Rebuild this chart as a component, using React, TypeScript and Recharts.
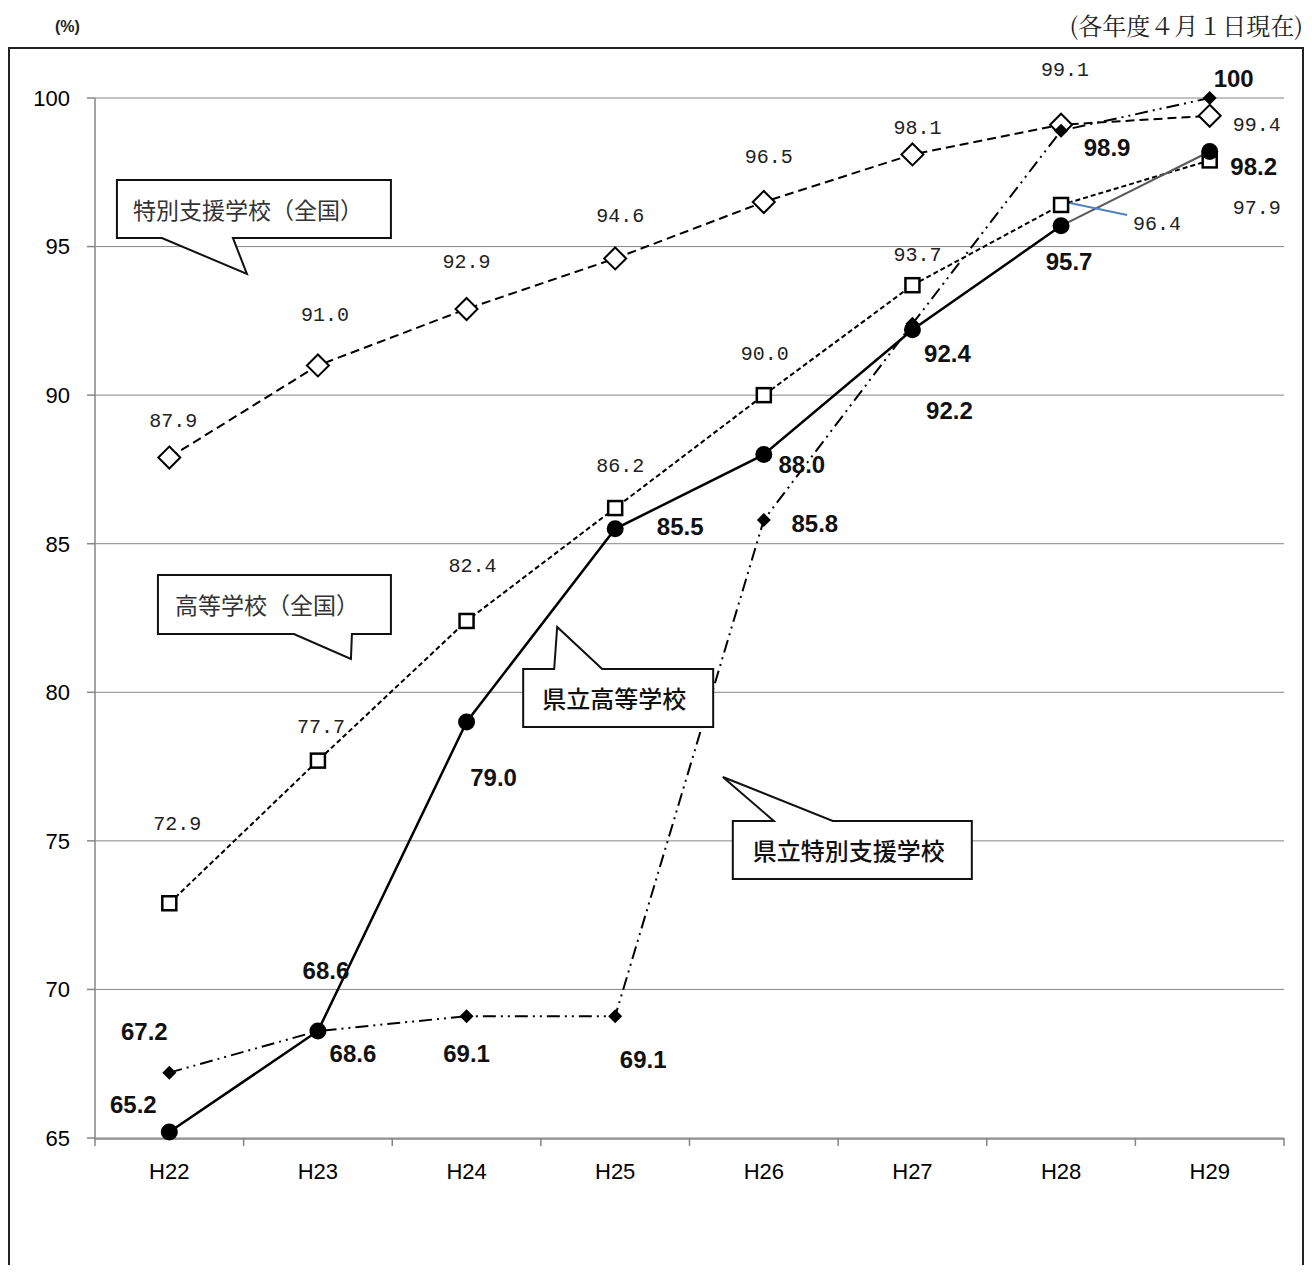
import React from 'react';
import { LineChart, Line, XAxis, YAxis, CartesianGrid, LabelList, ReferenceDot } from 'recharts';

const years = ['H22', 'H23', 'H24', 'H25', 'H26', 'H27', 'H28', 'H29'];
const tokubetsuZenkoku = [87.9, 91.0, 92.9, 94.6, 96.5, 98.1, 99.1, 99.4];
const kokoZenkoku = [72.9, 77.7, 82.4, 86.2, 90.0, 93.7, 96.4, 97.9];
const kenritsuKoko = [65.2, 68.6, 79.0, 85.5, 88.0, 92.2, 95.7, 98.2];
const kenritsuTokubetsu = [67.2, 68.6, 69.1, 69.1, 85.8, 92.4, 98.9, 100];
const yTicks = [65, 70, 75, 80, 85, 90, 95, 100];
const boundaryTicks = [0, 1, 2, 3, 4, 5, 6, 7, 8];

const data = years.map((year, i) => ({
  year,
  pos: i + 0.5,
  tz: tokubetsuZenkoku[i],
  kz: kokoZenkoku[i],
  kkMain: i <= 6 ? kenritsuKoko[i] : null,
  kkTail: i >= 6 ? kenritsuKoko[i] : null,
  kt: kenritsuTokubetsu[i],
}));

// label offsets (dx, dy) from each point
const tzOffsets = [[4, -36], [7, -50], [0, -46], [5, -42], [5, -45], [5, -26], [4, -54], [47, 10]];
const kzOffsets = [[8, -79], [3, -33], [6, -54], [5, -42], [1, -41], [5, -30], [96, 20], [47, 48]];
const kkOffsets = [[-36, -28], [35, 22], [27, 55], [65, -2], [38, 10], [37, 81], [8, 36], [44, 15]];
const ktOffsets = [[-25, -41], [8, -61], [0, 37], [28, 43], [51, 4], [35, 30], [46, 17], [24, -20]];

const fmt = (v: number) => (v === 100 ? '100' : v.toFixed(1));

const thinFont = "'Liberation Mono', 'DejaVu Sans Mono', monospace";
const boldFont = "'Liberation Sans Narrow', 'Liberation Sans', Arial, sans-serif";
const jpFont = "'Noto Sans CJK JP', 'Noto Sans', sans-serif";

const makeLabel = (offsets: number[][], kind: 'thin' | 'bold', only?: number, leader?: number) => (props: any) => {
  const { x, y, value, index } = props;
  if (value == null || x == null || y == null) return null;
  if (only != null && index !== only) return null;
  const [dx, dy] = offsets[index];
  const isThin = kind === 'thin';
  return (
    <g key={`lbl-${kind}-${index}`}>
      {leader === index && (
        <line x1={x + 9} y1={y - 2} x2={x + 66} y2={y + 10} stroke="#4f81bd" strokeWidth={2} />
      )}
      <text
        x={x + dx}
        y={y + dy}
        textAnchor="middle"
        dominantBaseline="central"
        fontFamily={isThin ? thinFont : boldFont}
        fontSize={isThin ? 20 : 24}
        fontWeight={isThin ? 400 : 700}
        fill={isThin ? '#222' : '#111'}
      >
        {fmt(value)}
      </text>
    </g>
  );
};

const hollowDiamond = (p: any) => {
  const { cx, cy, index } = p;
  if (cx == null || cy == null) return <g key={`hd-${index}`} />;
  const s = 11;
  return (
    <polygon
      key={`hd-${index}`}
      points={`${cx},${cy - s} ${cx + s},${cy} ${cx},${cy + s} ${cx - s},${cy}`}
      fill="#fff"
      stroke="#000"
      strokeWidth={2}
    />
  );
};

const hollowSquare = (p: any) => {
  const { cx, cy, index } = p;
  if (cx == null || cy == null) return <g key={`hs-${index}`} />;
  const s = 7;
  return <rect key={`hs-${index}`} x={cx - s} y={cy - s} width={2 * s} height={2 * s} fill="#fff" stroke="#000" strokeWidth={2.5} />;
};

const filledCircle = (only?: number) => (p: any) => {
  const { cx, cy, index } = p;
  if (cx == null || cy == null || (only != null && index !== only)) return <g key={`fc-${index}`} />;
  return <circle key={`fc-${index}`} cx={cx} cy={cy} r={8.5} fill="#000" />;
};

const filledDiamond = (p: any) => {
  const { cx, cy, index } = p;
  if (cx == null || cy == null) return <g key={`fd-${index}`} />;
  const s = 7;
  return (
    <polygon key={`fd-${index}`} points={`${cx},${cy - s} ${cx + s},${cy} ${cx},${cy + s} ${cx - s},${cy}`} fill="#000" />
  );
};

type CalloutSpec = {
  x: string;
  y: number;
  box: [number, number, number, number];
  side: 'top' | 'bottom';
  base: [number, number];
  tip: [number, number];
  text: string;
  textDx: number;
  textDy: number;
  weight: number;
  color: string;
  size: number;
};

const callouts: CalloutSpec[] = [
  { x: 'H23', y: 95, box: [-201, -66.6, 73, -8.6], side: 'bottom', base: [-156, -85], tip: [-71, 27.4], text: '特別支援学校（全国）', textDx: 16, textDy: -37.6, weight: 400, color: '#333', size: 23 },
  { x: 'H23', y: 80, box: [-160, -117.3, 73, -58.3], side: 'bottom', base: [-24, 34], tip: [33, -33.3], text: '高等学校（全国）', textDx: 17, textDy: -87.8, weight: 400, color: '#333', size: 23 },
  { x: 'H25', y: 80, box: [-92, -23.3, 98, 34.7], side: 'top', base: [-61, -13], tip: [-58, -65.3], text: '県立高等学校', textDx: 19, textDy: 5.7, weight: 500, color: '#111', size: 24 },
  { x: 'H26', y: 75, box: [-31, -19.9, 208, 38.1], side: 'top', base: [10, 69], tip: [-41, -63.9], text: '県立特別支援学校', textDx: 20, textDy: 9.1, weight: 500, color: '#111', size: 24 },
];

const makeCallout = (c: CalloutSpec) => (p: any) => {
  const { cx, cy } = p;
  const [x1, y1, x2, y2] = c.box.map((v, i) => (i % 2 === 0 ? cx + v : cy + v));
  const bL = cx + c.base[0];
  const bR = cx + c.base[1];
  const tx = cx + c.tip[0];
  const ty = cy + c.tip[1];
  const d =
    c.side === 'bottom'
      ? `M${x1},${y1} L${x2},${y1} L${x2},${y2} L${bR},${y2} L${tx},${ty} L${bL},${y2} L${x1},${y2} Z`
      : `M${x1},${y1} L${bL},${y1} L${tx},${ty} L${bR},${y1} L${x2},${y1} L${x2},${y2} L${x1},${y2} Z`;
  return (
    <g>
      <path d={d} fill="#fff" stroke="#111" strokeWidth={2} strokeLinejoin="miter" />
      <text
        x={x1 + c.textDx}
        y={cy + c.textDy}
        dominantBaseline="central"
        fontFamily={jpFont}
        fontSize={c.size}
        fontWeight={c.weight}
        fill={c.color}
      >
        {c.text}
      </text>
    </g>
  );
};

export default function App() {
  return (
    <div style={{ position: 'relative', width: 1296, height: 1257 }}>
      <style>{`html{overflow:hidden;}`}</style>
      <div
        style={{
          position: 'absolute',
          left: 0,
          top: 39,
          width: 1296,
          height: 1260,
          border: '2px solid #222',
          boxSizing: 'border-box',
        }}
      />
      <div
        style={{
          position: 'absolute',
          left: 47,
          top: 11,
          fontFamily: "'Liberation Sans', Arial, sans-serif",
          fontSize: 16,
          lineHeight: '16px',
          fontWeight: 700,
          color: '#222',
          whiteSpace: 'nowrap',
        }}
      >
        (%)
      </div>
      <div
        style={{
          position: 'absolute',
          right: 1,
          top: 3,
          fontFamily: "'Noto Serif CJK JP', 'Noto Sans CJK JP', serif",
          fontSize: 24,
          lineHeight: '28px',
          color: '#222',
          whiteSpace: 'nowrap',
        }}
      >
        (各年度４月１日現在)
      </div>
      <div style={{ position: 'absolute', left: 0, top: 0 }}>
        <LineChart width={1296} height={1257} data={data} margin={{ top: 90, right: 20, left: 27, bottom: 87 }}>
          <CartesianGrid vertical={false} stroke="#868686" xAxisId="lbl" />
          <XAxis
            xAxisId="b"
            type="number"
            dataKey="pos"
            domain={[0, 8]}
            ticks={boundaryTicks}
            interval={0}
            axisLine={false}
            tickLine={{ stroke: '#868686', strokeWidth: 1.5 }}
            tickSize={8}
            tickFormatter={() => ''}
            height={1}
            allowDataOverflow
          />
          <XAxis
            xAxisId="lbl"
            dataKey="year"
            interval={0}
            padding={{ left: 74.3, right: 74.3 }}
            tickLine={false}
            axisLine={{ stroke: '#868686', strokeWidth: 1.5 }}
            tickSize={8}
            tickMargin={16}
            height={39}
            tick={{ fontSize: 22, fill: '#000', fontFamily: "'Liberation Sans', Arial, sans-serif" }}
          />
          <YAxis
            domain={[65, 100]}
            ticks={yTicks}
            interval={0}
            width={60}
            tickSize={8}
            tickMargin={17}
            axisLine={{ stroke: '#868686', strokeWidth: 1.5 }}
            tickLine={{ stroke: '#868686', strokeWidth: 1.5 }}
            tick={{ fontSize: 22, fill: '#000', fontFamily: "'Liberation Sans', Arial, sans-serif" }}
          />
          <Line
            xAxisId="lbl"
            dataKey="tz"
            stroke="#000"
            strokeWidth={2}
            strokeDasharray="9 5"
            dot={hollowDiamond}
            activeDot={false}
            isAnimationActive={false}
          >
            <LabelList dataKey="tz" content={makeLabel(tzOffsets, 'thin')} />
          </Line>
          <Line
            xAxisId="lbl"
            dataKey="kz"
            stroke="#000"
            strokeWidth={2}
            strokeDasharray="5 3"
            dot={hollowSquare}
            activeDot={false}
            isAnimationActive={false}
          >
            <LabelList dataKey="kz" content={makeLabel(kzOffsets, 'thin', undefined, 6)} />
          </Line>
          <Line
            xAxisId="lbl"
            dataKey="kkTail"
            stroke="#5a5a5a"
            strokeWidth={2}
            dot={filledCircle(7)}
            activeDot={false}
            isAnimationActive={false}
          >
            <LabelList dataKey="kkTail" content={makeLabel(kkOffsets, 'bold', 7)} />
          </Line>
          <Line
            xAxisId="lbl"
            dataKey="kkMain"
            stroke="#000"
            strokeWidth={2.5}
            dot={filledCircle()}
            activeDot={false}
            isAnimationActive={false}
          >
            <LabelList dataKey="kkMain" content={makeLabel(kkOffsets, 'bold')} />
          </Line>
          <Line
            xAxisId="lbl"
            dataKey="kt"
            stroke="#000"
            strokeWidth={2}
            strokeDasharray="13 5 2 5 2 5"
            dot={filledDiamond}
            activeDot={false}
            isAnimationActive={false}
          >
            <LabelList dataKey="kt" content={makeLabel(ktOffsets, 'bold')} />
          </Line>
          {callouts.map((c, i) => (
            <ReferenceDot key={`co-${i}`} xAxisId="lbl" x={c.x} y={c.y} r={0} shape={makeCallout(c)} ifOverflow="visible" />
          ))}
        </LineChart>
      </div>
    </div>
  );
}
